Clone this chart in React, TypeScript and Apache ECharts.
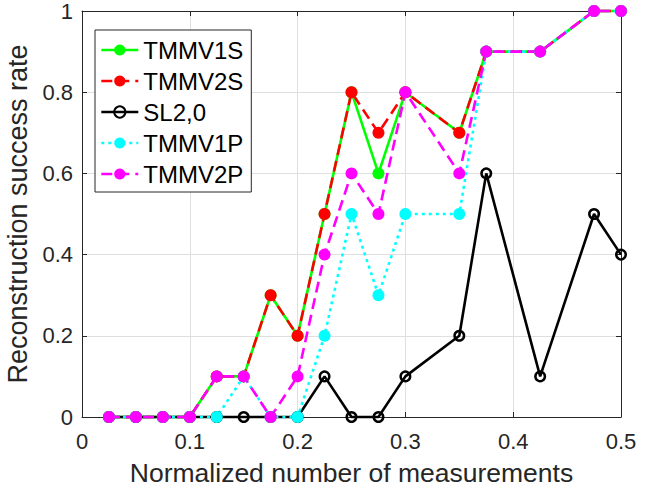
import React, { useEffect, useRef } from "react";
import * as echarts from "echarts";

const xValues = [0.025, 0.05, 0.075, 0.1, 0.125, 0.15, 0.175, 0.2, 0.225, 0.25, 0.275, 0.3, 0.35, 0.375, 0.425, 0.475, 0.5];
const tmmv1s = [0, 0, 0, 0, 0.1, 0.1, 0.3, 0.2, 0.5, 0.8, 0.6, 0.8, 0.7, 0.9, 0.9, 1, 1];
const tmmv2s = [0, 0, 0, 0, 0.1, 0.1, 0.3, 0.2, 0.5, 0.8, 0.7, 0.8, 0.7, 0.9, 0.9, 1, 1];
const sl20 = [0, 0, 0, 0, 0, 0, 0, 0, 0.1, 0, 0, 0.1, 0.2, 0.6, 0.1, 0.5, 0.4];
const tmmv1p = [0, 0, 0, 0, 0, 0.1, 0, 0, 0.2, 0.5, 0.3, 0.5, 0.5, 0.9, 0.9, 1, 1];
const tmmv2p = [0, 0, 0, 0, 0.1, 0.1, 0, 0.1, 0.4, 0.6, 0.5, 0.8, 0.6, 0.9, 0.9, 1, 1];

const seriesNames = ["TMMV1S", "TMMV2S", "SL2,0", "TMMV1P", "TMMV2P"];
const xTicks = { min: 0, max: 0.5, interval: 0.1 };
const yTicks = { min: 0, max: 1, interval: 0.2 };
const xTitle = "Normalized number of measurements";
const yTitle = "Reconstruction success rate";

const FONT = "'Liberation Sans', Arial, Helvetica, sans-serif";
const AX = "#262626";

function pairs(ys: number[]) {
  return xValues.map((x, i) => [x, ys[i]]);
}

export default function App() {
  const ref = useRef<HTMLDivElement>(null);
  useEffect(() => {
    if (!ref.current) return;
    const chart = echarts.init(ref.current, null, { renderer: "svg" });
    const lw = 2.6;
    const filled = (name: string, data: number[], color: string, type: any) => ({
      name,
      type: "line",
      data: pairs(data),
      symbol: "circle",
      symbolSize: 12,
      clip: false,
      itemStyle: { color, borderColor: color, borderWidth: 0 },
      lineStyle: { color, width: lw, type, cap: "butt" },
      emphasis: { disabled: true },
    });
    chart.setOption({
      animation: false,
      backgroundColor: "#ffffff",
      textStyle: { fontFamily: FONT },
      grid: {
        left: 82,
        top: 11,
        right: 27,
        bottom: 71,
        containLabel: false,
        outerBoundsMode: "none",
      },
      legend: {
        left: 95,
        top: 30,
        orient: "vertical",
        backgroundColor: "#ffffff",
        borderColor: AX,
        borderWidth: 1,
        borderRadius: 0,
        padding: [8, 8, 6, 5],
        itemWidth: 37,
        itemHeight: 14,
        itemGap: 7,
        textStyle: { fontSize: 24, color: "#000", fontFamily: FONT, lineHeight: 24 },
        lineStyle: { width: lw },
        selectedMode: false,
        data: seriesNames,
      },
      xAxis: [
        {
          type: "value",
          ...xTicks,
          name: xTitle,
          nameLocation: "middle",
          nameGap: 44,
          nameTextStyle: { fontSize: 26.5, color: AX, fontFamily: FONT, lineHeight: 24 },
          axisLine: { show: true, lineStyle: { color: AX, width: 1 } },
          axisTick: { show: true, inside: true, length: 5, lineStyle: { color: AX } },
          axisLabel: { fontSize: 22, color: AX, margin: 13, fontFamily: FONT },
          splitLine: { show: true, lineStyle: { color: "#dfdfdf", width: 1 } },
        },
        {
          type: "value",
          position: "top",
          ...xTicks,
          axisLine: { show: true, onZero: false, lineStyle: { color: AX, width: 1 } },
          axisTick: { show: true, inside: true, length: 5, lineStyle: { color: AX } },
          axisLabel: { show: false },
          splitLine: { show: false },
        },
      ],
      yAxis: [
        {
          type: "value",
          ...yTicks,
          name: yTitle,
          nameLocation: "middle",
          nameGap: 52,
          nameTextStyle: { fontSize: 27, color: AX, fontFamily: FONT, lineHeight: 24 },
          axisLine: { show: true, lineStyle: { color: AX, width: 1 } },
          axisTick: { show: true, inside: true, length: 5, lineStyle: { color: AX } },
          axisLabel: { fontSize: 22, color: AX, margin: 9, fontFamily: FONT },
          splitLine: { show: true, lineStyle: { color: "#dfdfdf", width: 1 } },
        },
        {
          type: "value",
          position: "right",
          ...yTicks,
          axisLine: { show: true, onZero: false, lineStyle: { color: AX, width: 1 } },
          axisTick: { show: true, inside: true, length: 5, lineStyle: { color: AX } },
          axisLabel: { show: false },
          splitLine: { show: false },
        },
      ],
      series: [
        filled(seriesNames[0], tmmv1s, "#00ff00", "solid"),
        filled(seriesNames[1], tmmv2s, "#ff0000", [11, 6]),
        {
          name: seriesNames[2],
          type: "line",
          data: pairs(sl20),
          symbol: "circle",
          symbolSize: 9.5,
          clip: false,
          itemStyle: { color: "rgba(255,255,255,0)", borderColor: "#000000", borderWidth: 2.5 },
          lineStyle: { color: "#000000", width: lw, type: "solid" },
          emphasis: { disabled: true },
        },
        filled(seriesNames[3], tmmv1p, "#00ffff", [3, 4]),
        filled(seriesNames[4], tmmv2p, "#ff00ff", [11, 6]),
      ],
    });
    return () => chart.dispose();
  }, []);
  return (
    <div
      ref={ref}
      style={{ position: "fixed", left: 0, top: 0, width: 648, height: 488, background: "#fff" }}
    />
  );
}
